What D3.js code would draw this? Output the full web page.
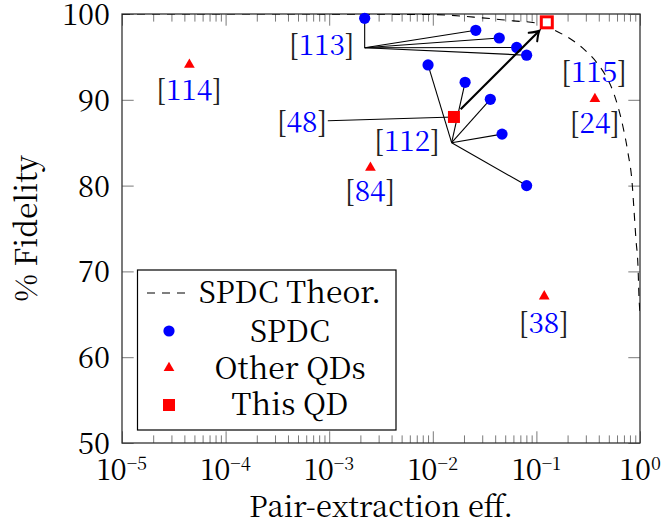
<!DOCTYPE html>
<html>
<head>
<meta charset="utf-8">
<script src="https://cdn.jsdelivr.net/npm/d3@7"></script>
<style>
  html, body { margin: 0; padding: 0; background: #fff; }
  svg { display: block; }
</style>
</head>
<body>
<svg id="chart" width="664" height="524"></svg>
<script>
// ---------------- data ----------------
const theoryEff = [1e-5, 1e-4, 1e-3, 0.01, 0.03, 0.06, 0.1, 0.15, 0.221, 0.294, 0.385, 0.48, 0.548, 0.614, 0.686, 0.766, 0.838, 0.875, 0.915, 0.957, 0.978, 1.0];
const theoryFid = [100, 100, 99.99, 99.93, 99.55, 99.2, 98.95, 98.1, 96.97, 95.8, 94.29, 92.54, 91.03, 89.16, 86.83, 83.8, 80.42, 77.16, 73.66, 70.51, 67.02, 65.15];

const spdcEff = [0.0022, 0.026, 0.0438, 0.0645, 0.0805, 0.009, 0.0205, 0.0359, 0.0466, 0.0805];
const spdcFid = [99.5, 98.1, 97.2, 96.1, 95.2, 94.06, 92.04, 90.06, 86.0, 80.0];

const otherEff = [4.47e-5, 0.0025, 0.367, 0.119];
const otherFid = [94.1, 82.1, 90.1, 67.1];

const thisEff = [0.016, 0.126];
const thisFid = [88.0, 99.03];

const refLabels = ["113", "114", "48", "112", "84", "115", "24", "38"];
const refLabelEff = [8.47e-4, 4.44e-5, 5.46e-4, 5.64e-3, 2.48e-3, 0.36, 0.367, 0.118];
const refLabelFid = [95.22, 89.98, 86.28, 84.07, 78.2, 92.1, 86.13, 62.8];

// connector junctions and their targets (indices into SPDC arrays)
const junction113 = [0.0022, 96.07];
const targets113 = [0, 1, 2, 3, 4];
const junction112 = [0.0152, 85.0];
const targets112 = [5, 6, 7, 8, 9];
const start48 = [0.00097, 87.56];
const arrowFrom = [0.01858, 88.89];
const arrowTo = [0.1067, 98.05];

const xMajor = [1e-5, 1e-4, 1e-3, 1e-2, 1e-1, 1];
const xMajorExp = ["−5", "−4", "−3", "−2", "−1", "0"];
const yTicks = [50, 60, 70, 80, 90, 100];
const legendLabels = ["SPDC Theor.", "SPDC", "Other QDs", "This QD"];

// ---------------- layout ----------------
const FONT = '"Noto Serif CJK SC", "Liberation Serif", serif';
const L = 122, R = 640, T = 14, B = 443;
const svg = d3.select("#chart");
const x = d3.scaleLog().domain([1e-5, 1]).range([L, R]);
const y = d3.scaleLinear().domain([50, 100]).range([B, T]);

const BLUE = "#0000ff", RED = "#ff0000";
const tickCol = "#7a7a7a";
const majorLen = 11.7, minorLen = 7.6;

// minor ticks
const xMinor = [];
for (let k = -5; k < 0; k++) for (let m = 2; m <= 9; m++) xMinor.push(m * Math.pow(10, k));

function styleAxis(g) {
  g.select(".domain").remove();
  g.selectAll(".tick line").attr("stroke", tickCol).attr("stroke-width", 1);
}

// bottom
svg.append("g").attr("transform", `translate(0,${B})`)
  .call(d3.axisBottom(x).tickValues(xMajor).tickSize(-majorLen).tickFormat(""))
  .call(styleAxis);
svg.append("g").attr("transform", `translate(0,${B})`)
  .call(d3.axisBottom(x).tickValues(xMinor).tickSize(-minorLen).tickFormat(""))
  .call(styleAxis);
// top
svg.append("g").attr("transform", `translate(0,${T})`)
  .call(d3.axisTop(x).tickValues(xMajor).tickSize(-majorLen).tickFormat(""))
  .call(styleAxis);
svg.append("g").attr("transform", `translate(0,${T})`)
  .call(d3.axisTop(x).tickValues(xMinor).tickSize(-minorLen).tickFormat(""))
  .call(styleAxis);
// left
const gl = svg.append("g").attr("transform", `translate(${L},0)`)
  .call(d3.axisLeft(y).tickValues(yTicks).tickSize(-majorLen).tickPadding(12).tickFormat(d3.format("d")))
  .call(styleAxis);
gl.attr("font-family", null).attr("font-size", null);
gl.selectAll(".tick text").style("font-family", FONT).style("font-size", "29px")
  .attr("fill", "#000").attr("dy", "0.36em");
// right
svg.append("g").attr("transform", `translate(${R},0)`)
  .call(d3.axisRight(y).tickValues(yTicks).tickSize(-majorLen).tickFormat(""))
  .call(styleAxis);

// x tick labels with superscripts
const xl = svg.append("g");
xMajor.forEach((v, i) => {
  const t = xl.append("text").attr("x", x(v)).attr("y", 480).attr("text-anchor", "middle")
    .style("font-family", FONT).style("font-size", "29px").attr("fill", "#000");
  t.append("tspan").text("10");
  t.append("tspan").attr("dy", -10).style("font-size", "18px").text(xMajorExp[i]);
});

// frame
svg.append("rect").attr("x", L).attr("y", T).attr("width", R - L).attr("height", B - T)
  .attr("fill", "none").attr("stroke", "#333").attr("stroke-width", 1.3);

// axis titles
svg.append("text").attr("x", (L + R) / 2).attr("y", 517).attr("text-anchor", "middle")
  .style("font-family", FONT).style("font-size", "29px").attr("fill", "#000").text("Pair-extraction eff.");
svg.append("text").attr("transform", `translate(37,${(T + B) / 2}) rotate(-90)`)
  .style("font-family", FONT).attr("text-anchor", "middle").style("font-size", "30px").attr("fill", "#000").text("% Fidelity");

// clip
svg.append("clipPath").attr("id", "clip").append("rect")
  .attr("x", L).attr("y", T).attr("width", R - L).attr("height", B - T);

// theory curve
const theory = theoryEff.map((e, i) => [e, theoryFid[i]]);
svg.append("path").datum(theory)
  .attr("clip-path", "url(#clip)")
  .attr("fill", "none").attr("stroke", "#000").attr("stroke-width", 1.1)
  .attr("stroke-dasharray", "8,7")
  .attr("d", d3.line().x(d => x(d[0])).y(d => y(d[1])).curve(d3.curveMonotoneX));

// connectors
const conn = svg.append("g").attr("stroke", "#000").attr("stroke-width", 1.1).attr("fill", "none");
targets113.forEach(i => conn.append("line")
  .attr("x1", x(junction113[0])).attr("y1", y(junction113[1]))
  .attr("x2", x(spdcEff[i])).attr("y2", y(spdcFid[i])));
targets112.forEach(i => conn.append("line")
  .attr("x1", x(junction112[0])).attr("y1", y(junction112[1]))
  .attr("x2", x(spdcEff[i])).attr("y2", y(spdcFid[i])));
conn.append("line").attr("x1", x(start48[0])).attr("y1", y(start48[1]))
  .attr("x2", x(thisEff[0])).attr("y2", y(thisFid[0]));

// markers
function triPath(r) {
  return `M0,${-r}L${0.866 * r},${0.5 * r}L${-0.866 * r},${0.5 * r}Z`;
}
svg.append("g").selectAll("circle").data(spdcEff).join("circle")
  .attr("cx", d => x(d)).attr("cy", (d, i) => y(spdcFid[i])).attr("r", 5.6).attr("fill", BLUE);
svg.append("g").selectAll("path").data(otherEff).join("path")
  .attr("transform", (d, i) => `translate(${x(d)},${y(otherFid[i])})`)
  .attr("d", triPath(6.2)).attr("fill", RED);
// this QD: filled then hollow
svg.append("rect").attr("x", x(thisEff[0]) - 6).attr("y", y(thisFid[0]) - 6)
  .attr("width", 12).attr("height", 12).attr("fill", RED);
svg.append("rect").attr("x", x(thisEff[1]) - 5.5).attr("y", y(thisFid[1]) - 5.5)
  .attr("width", 11).attr("height", 11).attr("fill", "#fff").attr("stroke", RED).attr("stroke-width", 3);

// arrow
const ax1 = x(arrowFrom[0]), ay1 = y(arrowFrom[1]), ax2 = x(arrowTo[0]), ay2 = y(arrowTo[1]);
svg.append("line").attr("x1", ax1).attr("y1", ay1).attr("x2", ax2 - 0.5).attr("y2", ay2 + 0.5)
  .attr("stroke", "#000").attr("stroke-width", 2.2);
{
  const dx = ax2 - ax1, dy = ay2 - ay1, len = Math.hypot(dx, dy);
  const ux = dx / len, uy = dy / len, nx = -uy, ny = ux;
  const p = (a, b) => [ax2 - a * ux + b * nx, ay2 - a * uy + b * ny];
  const A = p(9, 6), Ac = p(3, 1.2), Bp = p(9, -6), Bc = p(3, -1.2);
  svg.append("path")
    .attr("d", `M${A[0]},${A[1]}Q${Ac[0]},${Ac[1]} ${ax2},${ay2}Q${Bc[0]},${Bc[1]} ${Bp[0]},${Bp[1]}`)
    .attr("fill", "none").attr("stroke", "#000").attr("stroke-width", 2).attr("stroke-linecap", "round");
}

// reference labels
const lg = svg.append("g");
refLabels.forEach((s, i) => {
  const t = lg.append("text").attr("x", x(refLabelEff[i])).attr("y", y(refLabelFid[i]))
    .attr("text-anchor", "middle").style("font-family", FONT).style("font-size", "28px");
  t.append("tspan").attr("fill", "#222").text("[");
  t.append("tspan").attr("fill", BLUE).text(s);
  t.append("tspan").attr("fill", "#222").text("]");
});

// legend
const leg = svg.append("g");
leg.append("rect").attr("x", 137.5).attr("y", 270).attr("width", 258.5).attr("height", 160)
  .attr("fill", "#fff").attr("stroke", "#000").attr("stroke-width", 1.2);
const rowY = [293, 331, 368, 405];
const textY = [303, 341.5, 379, 415];
leg.append("line").attr("x1", 147).attr("x2", 189).attr("y1", rowY[0]).attr("y2", rowY[0])
  .attr("stroke", "#000").attr("stroke-width", 1.1).attr("stroke-dasharray", "8,7");
leg.append("circle").attr("cx", 169).attr("cy", rowY[1]).attr("r", 5.6).attr("fill", BLUE);
leg.append("path").attr("transform", `translate(169,${rowY[2]})`).attr("d", triPath(6.2)).attr("fill", RED);
leg.append("rect").attr("x", 163).attr("y", rowY[3] - 6).attr("width", 12).attr("height", 12).attr("fill", RED);
legendLabels.forEach((s, i) => {
  leg.append("text").attr("x", 290).attr("y", textY[i]).attr("text-anchor", "middle")
    .style("font-family", FONT).style("font-size", "30px").attr("fill", "#000").text(s);
});
</script>
</body>
</html>
